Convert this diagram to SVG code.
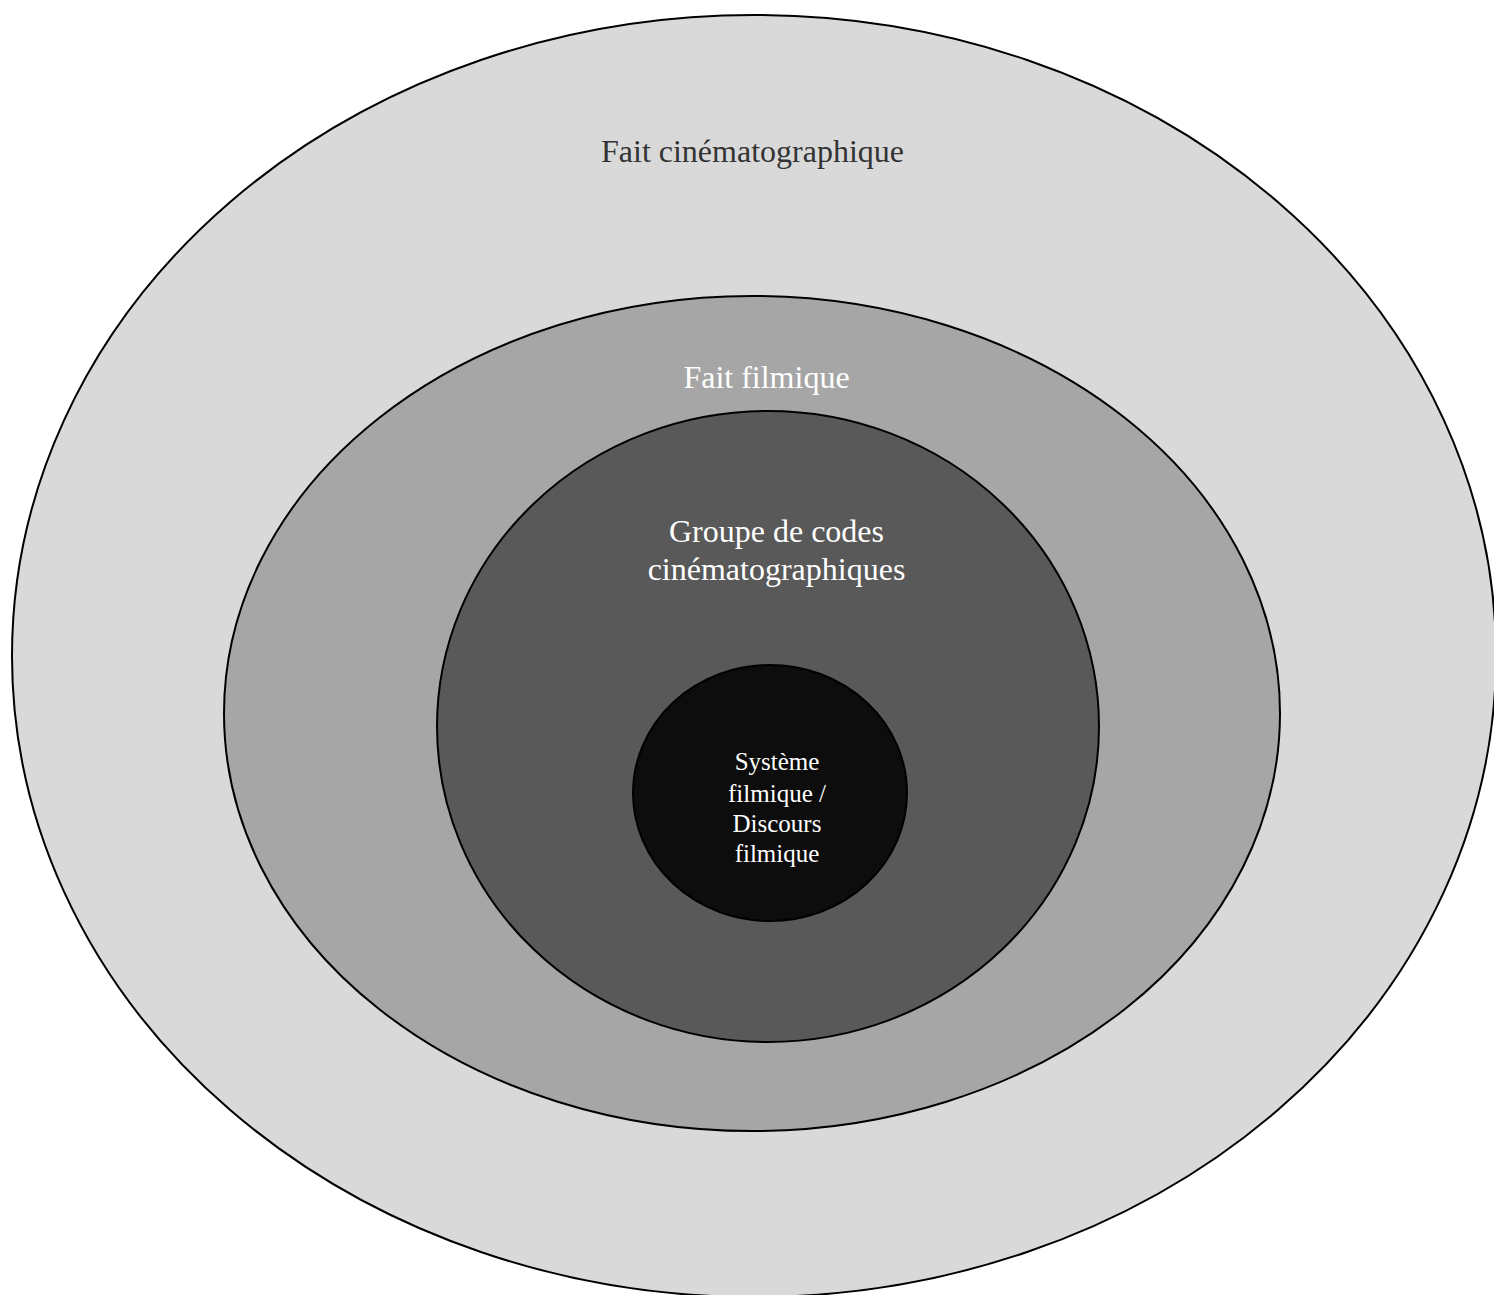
<svg xmlns="http://www.w3.org/2000/svg" width="1494" height="1295" viewBox="0 0 1494 1295">
<style>
.e{stroke:#000;stroke-width:2}
.t{font-family:"Liberation Serif","Times New Roman",serif;text-anchor:middle}
</style>
<rect width="1494" height="1295" fill="#fff"/>
<g id="fait-cinematographique">
<ellipse class="e" cx="754" cy="656" rx="742" ry="641" fill="#d9d9d9"/>
<text class="t" x="752.5" y="162" font-size="32" fill="#333">Fait cinématographique</text>
</g>
<g id="fait-filmique">
<ellipse class="e" cx="752" cy="713.5" rx="528" ry="417.5" fill="#a6a6a6"/>
<text class="t" x="766.5" y="388" font-size="32" fill="#fff">Fait filmique</text>
</g>
<g id="groupe-codes">
<ellipse class="e" cx="768" cy="726.5" rx="331" ry="315.5" fill="#595959"/>
<text class="t" x="776.5" y="542" font-size="32" fill="#fff">Groupe de codes</text>
<text class="t" x="776.5" y="580" font-size="32" fill="#fff">cinématographiques</text>
</g>
<g id="systeme-filmique">
<ellipse class="e" cx="770" cy="793" rx="137" ry="128" fill="#0d0d0d"/>
<text class="t" x="777" y="770" font-size="25" fill="#fff">Système</text>
<text class="t" x="777" y="802" font-size="25" fill="#fff">filmique /</text>
<text class="t" x="777" y="832" font-size="25" fill="#fff">Discours</text>
<text class="t" x="777" y="862" font-size="25" fill="#fff">filmique</text>
</g>
<g id="connectors"/>
</svg>
